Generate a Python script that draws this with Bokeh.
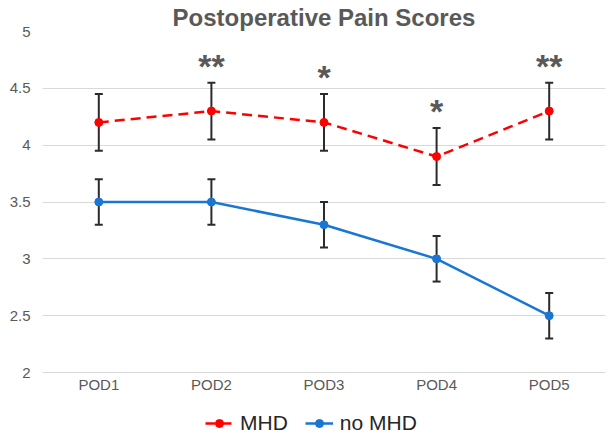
from bokeh.plotting import figure
from bokeh.models import ColumnDataSource, Whisker, Legend, LegendItem, FactorRange
from bokeh.embed import file_html
from bokeh.resources import INLINE
from bokeh.core.properties import value

days = ["POD1", "POD2", "POD3", "POD4", "POD5"]
mhd = [4.2, 4.3, 4.2, 3.9, 4.3]
mhd_err = [0.25, 0.25, 0.25, 0.25, 0.25]
no_mhd = [3.5, 3.5, 3.3, 3.0, 2.5]
no_mhd_err = [0.2, 0.2, 0.2, 0.2, 0.2]
stars = ["", "**", "*", "*", "**"]
y_ticks = [2, 2.5, 3, 3.5, 4, 4.5, 5]

FONT = "Liberation Sans"
GRAY = "#595959"
RED = "#ff0000"
BLUE = "#1976d2"

src = ColumnDataSource(dict(
    x=days, mhd=mhd, no=no_mhd,
    mhd_lo=[v - e for v, e in zip(mhd, mhd_err)],
    mhd_hi=[v + e for v, e in zip(mhd, mhd_err)],
    no_lo=[v - e for v, e in zip(no_mhd, no_mhd_err)],
    no_hi=[v + e for v, e in zip(no_mhd, no_mhd_err)],
    stars=stars,
))

# frame: value axis 2..5 spans 341 px; the frame runs on below 2 to hold axis labels and legend
px_per_unit = 341 / 3
frame_h = 405
y_start = 5 - frame_h / px_per_unit

p = figure(frame_width=563, frame_height=frame_h, x_range=FactorRange(*days), y_range=(y_start, 5),
           output_backend="svg", toolbar_location=None,
           min_border_left=42, min_border_right=1, min_border_top=30, min_border_bottom=0)
p.title.text = "Postoperative Pain Scores"
p.title.align = "center"
p.title.text_font = FONT
p.title.text_font_size = "24px"
p.title.text_color = GRAY
p.title.text_font_style = "bold"
p.title.standoff = 2
p.outline_line_color = None
p.background_fill_color = "white"
p.border_fill_color = "white"

p.xgrid.grid_line_color = None
p.ygrid.grid_line_color = "#d9d9d9"
p.ygrid.grid_line_width = 1
p.yaxis.ticker = y_ticks
for ax in (p.xaxis[0], p.yaxis[0]):
    ax.axis_line_color = None
    ax.major_tick_line_color = None
    ax.minor_tick_line_color = None
    ax.major_tick_out = 0
    ax.major_tick_in = 0
    ax.minor_tick_out = 0
    ax.major_label_text_font = FONT
    ax.major_label_text_color = GRAY
p.xaxis.fixed_location = y_ticks[0]
p.yaxis.major_label_text_font_size = "15px"
p.xaxis.major_label_text_font_size = "15px"
p.yaxis.major_label_standoff = 12
p.xaxis.major_label_standoff = 3

# error bars
for lo, hi in (("mhd_lo", "mhd_hi"), ("no_lo", "no_hi")):
    w = Whisker(source=src, base="x", lower=lo, upper=hi, line_color="#2b2b2b", line_width=2)
    w.upper_head.size = 8
    w.lower_head.size = 8
    w.upper_head.line_color = "#2b2b2b"
    w.lower_head.line_color = "#2b2b2b"
    w.upper_head.line_width = 2
    w.lower_head.line_width = 2
    p.add_layout(w)

l1 = p.line("x", "mhd", source=src, line_color=RED, line_width=2.5, line_dash="10 6")
c1 = p.scatter("x", "mhd", source=src, size=8, fill_color=RED, line_color=RED)
l2 = p.line("x", "no", source=src, line_color=BLUE, line_width=2.5)
c2 = p.scatter("x", "no", source=src, size=8, fill_color=BLUE, line_color=BLUE)

p.text("x", "mhd_hi", text="stars", source=src, text_align="center", text_baseline="middle",
       text_font=value(FONT), text_font_style="bold", text_font_size="34px", text_color=GRAY,
       y_offset=-17)

legend = Legend(items=[LegendItem(label="MHD", renderers=[l1, c1]),
                       LegendItem(label="no MHD", renderers=[l2, c2])],
                orientation="horizontal", location=(163, 1),
                label_text_font=FONT, label_text_font_size="21px", label_text_color="#262626",
                border_line_color=None, background_fill_alpha=0,
                glyph_width=28, label_standoff=7, spacing=17, padding=0, margin=0)
p.add_layout(legend, "center")

open("out.html", "w").write(file_html(p, INLINE))
